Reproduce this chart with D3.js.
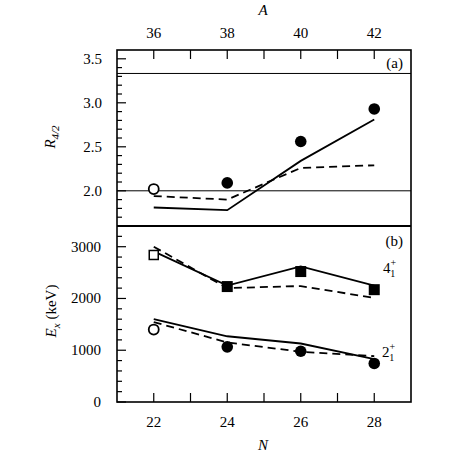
<!DOCTYPE html>
<html><head><meta charset="utf-8">
<script src="https://cdn.jsdelivr.net/npm/d3@7"></script>
<style>body{margin:0;background:#fff}svg{display:block}</style>
</head><body><svg id="c" width="469" height="455"></svg>
<script>
const N = [22, 24, 26, 28];
const topTicksA = [36, 38, 40, 42];
const bottomTicksN = [22, 24, 26, 28];
const ratioTicks = [2.0, 2.5, 3.0, 3.5];
const energyTicks = [0, 1000, 2000, 3000];
// panel (a) R4/2
const ratioExp = [2.02, 2.09, 2.56, 2.93];      // first open
const ratioSolid = [1.81, 1.78, 2.34, 2.81];
const ratioDashed = [1.94, 1.90, 2.26, 2.29];
const refLines = [2.0, 10/3];
// panel (b) energies
const e4Exp = [2840, 2230, 2520, 2170];
const e4Solid = [2910, 2250, 2620, 2250];
const e4Dashed = [3000, 2200, 2240, 2010];
const e2Exp = [1400, 1065, 980, 745];
const e2Solid = [1600, 1270, 1130, 830];
const e2Dashed = [1545, 1150, 970, 885];

const FONT = "'Liberation Serif','Times New Roman',Times,serif";
const svg = d3.select("#c");
const L = 117, R = 411, T = 50, M = 226, B = 402;
const x = d3.scaleLinear().domain([21, 29]).range([L, R]);
const ya = d3.scaleLinear().domain([1.6, 3.6]).range([M, T]);
const yb = d3.scaleLinear().domain([0, 3400]).range([B, M]);

const g = svg.append("g");
function txt(xp, yp, s, size, anchor){
  return g.append("text").attr("x",xp).attr("y",yp).attr("font-family",FONT).attr("font-size",size)
    .attr("text-anchor",anchor||"start").attr("fill","#000").text(s);
}
function ticksLeft(scale, major, minor){
  minor.forEach(v=>{ g.append("line").attr("x1",L).attr("x2",L+5).attr("y1",scale(v)).attr("y2",scale(v)).attr("stroke","#000").attr("stroke-width",1.2);});
  major.forEach(v=>{ g.append("line").attr("x1",L).attr("x2",L+9).attr("y1",scale(v)).attr("y2",scale(v)).attr("stroke","#000").attr("stroke-width",1.2);});
}
const minorA = d3.range(16, 36).map(d=>d/10).filter(v=>Math.abs(v*2-Math.round(v*2))>1e-6);
ticksLeft(ya, ratioTicks, minorA);
const minorB = d3.range(200, 3400, 200).filter(v=>v%1000!==0);
ticksLeft(yb, energyTicks, minorB);
d3.range(22, 29).forEach(n=>{
  g.append("line").attr("x1",x(n)).attr("x2",x(n)).attr("y1",T).attr("y2",T+9).attr("stroke","#000").attr("stroke-width",1.2);
  g.append("line").attr("x1",x(n)).attr("x2",x(n)).attr("y1",B).attr("y2",B-9).attr("stroke","#000").attr("stroke-width",1.2);
});
refLines.forEach(v=>g.append("line").attr("x1",L).attr("x2",R).attr("y1",ya(v)).attr("y2",ya(v)).attr("stroke","#000").attr("stroke-width",1));
g.append("rect").attr("x",L).attr("y",T).attr("width",R-L).attr("height",B-T).attr("fill","none").attr("stroke","#000").attr("stroke-width",1.6);
g.append("line").attr("x1",L).attr("x2",R).attr("y1",M).attr("y2",M).attr("stroke","#000").attr("stroke-width",1.8);

const fs = 15;
topTicksA.forEach(a=>txt(x(a-14), 38, a, fs, "middle"));
bottomTicksN.forEach(n=>txt(x(n), 427, n, fs, "middle"));
ratioTicks.forEach(v=>txt(102, ya(v)+5, v.toFixed(1), fs, "end"));
energyTicks.forEach(v=>txt(101, yb(v)+5, v, fs, "end"));

txt(263, 15, "A", 15, "middle").attr("font-style","italic");
txt(263, 450, "N", 15, "middle").attr("font-style","italic");
const ra = g.append("text").attr("transform","translate(55,137) rotate(-90)").attr("text-anchor","middle").attr("font-size",15).attr("font-family",FONT);
ra.append("tspan").attr("font-style","italic").text("R");
ra.append("tspan").attr("font-size",11).attr("font-style","italic").attr("dy",4).text("4/2");
const eb = g.append("text").attr("transform","translate(56,311) rotate(-90)").attr("text-anchor","middle").attr("font-size",15).attr("font-family",FONT);
eb.append("tspan").attr("font-style","italic").text("E");
eb.append("tspan").attr("font-size",11).attr("font-style","italic").attr("dy",4).text("x");
eb.append("tspan").attr("dy",-4).text(" (keV)");

txt(403, 68, "(a)", 15, "end");
txt(403, 246, "(b)", 15, "end");
function level(xp, yp, d){
  const t = txt(xp, yp, "", 15);
  t.append("tspan").text(d);
  t.append("tspan").attr("font-size",10).attr("dy",-7).text("+");
  t.append("tspan").attr("font-size",10).attr("dx",-6).attr("dy",11).text("1");
}
level(383, 273, "4");
level(382, 357, "2");

function drawLine(ys, vals, dashed){
  const ln = d3.line().x((d,i)=>x(N[i])).y(d=>ys(d));
  g.append("path").attr("d",ln(vals)).attr("fill","none").attr("stroke","#000").attr("stroke-width",1.8)
    .attr("stroke-dasharray",dashed?"8,5":null);
}
drawLine(ya, ratioSolid, false); drawLine(ya, ratioDashed, true);
drawLine(yb, e4Solid, false); drawLine(yb, e4Dashed, true);
drawLine(yb, e2Solid, false); drawLine(yb, e2Dashed, true);

function circles(ys, vals){
  vals.forEach((v,i)=>{
    if(i===0) g.append("circle").attr("cx",x(N[i])).attr("cy",ys(v)).attr("r",5).attr("fill","#fff").attr("stroke","#000").attr("stroke-width",1.8);
    else g.append("circle").attr("cx",x(N[i])).attr("cy",ys(v)).attr("r",5.8).attr("fill","#000");
  });
}
function squares(ys, vals){
  vals.forEach((v,i)=>{
    const s = i===0?9:11;
    g.append("rect").attr("x",x(N[i])-s/2).attr("y",ys(v)-s/2).attr("width",s).attr("height",s)
      .attr("fill",i===0?"#fff":"#000").attr("stroke","#000").attr("stroke-width",i===0?1.5:0);
  });
}
circles(ya, ratioExp);
circles(yb, e2Exp);
squares(yb, e4Exp);
</script></body></html>
